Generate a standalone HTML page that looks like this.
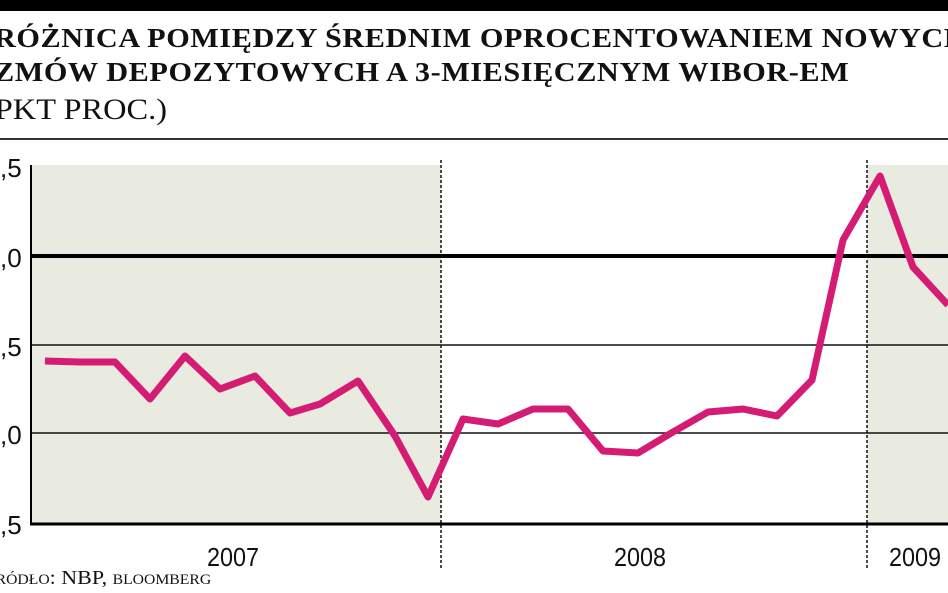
<!DOCTYPE html>
<html><head><meta charset="utf-8"><style>
body{margin:0;background:#fff;width:948px;height:593px;overflow:hidden;position:relative;font-family:"Liberation Serif",serif}
.t{position:absolute;left:-6px;font-weight:bold;font-size:27px;letter-spacing:0.5px;color:#111;white-space:nowrap;transform-origin:0 0;transform:scaleX(1.12)}
</style></head><body>
<div style="position:absolute;left:0;top:0;width:948px;height:11px;background:#000"></div>
<div class="t" style="top:23px">RÓŻNICA POMIĘDZY ŚREDNIM OPROCENTOWANIEM NOWYCH</div>
<div class="t" style="top:57px">ZMÓW DEPOZYTOWYCH A 3-MIESIĘCZNYM WIBOR-EM</div>
<div style="position:absolute;left:-16px;top:93px;font-size:30px;color:#111;transform-origin:0 0;transform:scaleX(1.08)">(PKT PROC.)</div>
<div style="position:absolute;left:0;top:138px;width:948px;height:2px;background:#333"></div>
<svg width="948" height="593" style="position:absolute;left:0;top:0">
<rect x="30" y="165" width="411" height="358" fill="#e9ebe1"/>
<rect x="867" y="165" width="81" height="358" fill="#e9ebe1"/>
<line x1="30" y1="345" x2="948" y2="345" stroke="#111" stroke-width="1.5"/>
<line x1="30" y1="433" x2="948" y2="433" stroke="#111" stroke-width="1.5"/>
<line x1="441" y1="160" x2="441" y2="570" stroke="#111" stroke-width="1.5" stroke-dasharray="3,2"/>
<line x1="867" y1="160" x2="867" y2="570" stroke="#111" stroke-width="1.5" stroke-dasharray="3,2"/>
<line x1="30" y1="256" x2="948" y2="256" stroke="#000" stroke-width="4"/>
<line x1="30" y1="524" x2="948" y2="524" stroke="#000" stroke-width="3"/>
<line x1="31" y1="165" x2="31" y2="525" stroke="#000" stroke-width="2"/>
<polyline fill="none" stroke="#d41c74" stroke-width="7" stroke-linejoin="round" points="45,361 80,362 115,362 150,399 185,356 220,389 255,376 290,413 320,404 358,381 395,436 428,497 463,419 498,424 533,409 568,409 603,451 638,453 673,432 708,412 743,409 777,416 812,380 843,240 880,176 913,267 948,305"/>
<g font-family="Liberation Sans Narrow,Liberation Sans,sans-serif" font-size="26" fill="#111">
<text x="0" y="177">,5</text><text x="0" y="267">,0</text><text x="0" y="356">,5</text><text x="0" y="444">,0</text><text x="0" y="534">,5</text>
<text x="233" y="566" text-anchor="middle" transform="translate(233,0) scale(0.9,1) translate(-233,0)">2007</text>
<text x="640" y="566" text-anchor="middle" transform="translate(640,0) scale(0.9,1) translate(-640,0)">2008</text>
<text x="915" y="566" text-anchor="middle" transform="translate(915,0) scale(0.9,1) translate(-915,0)">2009</text>
</g>
<text x="-4" y="584" font-family="Liberation Serif,serif" font-size="20" fill="#111" font-variant="small-caps" transform="scale(1.1,1)">ródło: NBP, bloomberg</text>
</svg>
</body></html>
